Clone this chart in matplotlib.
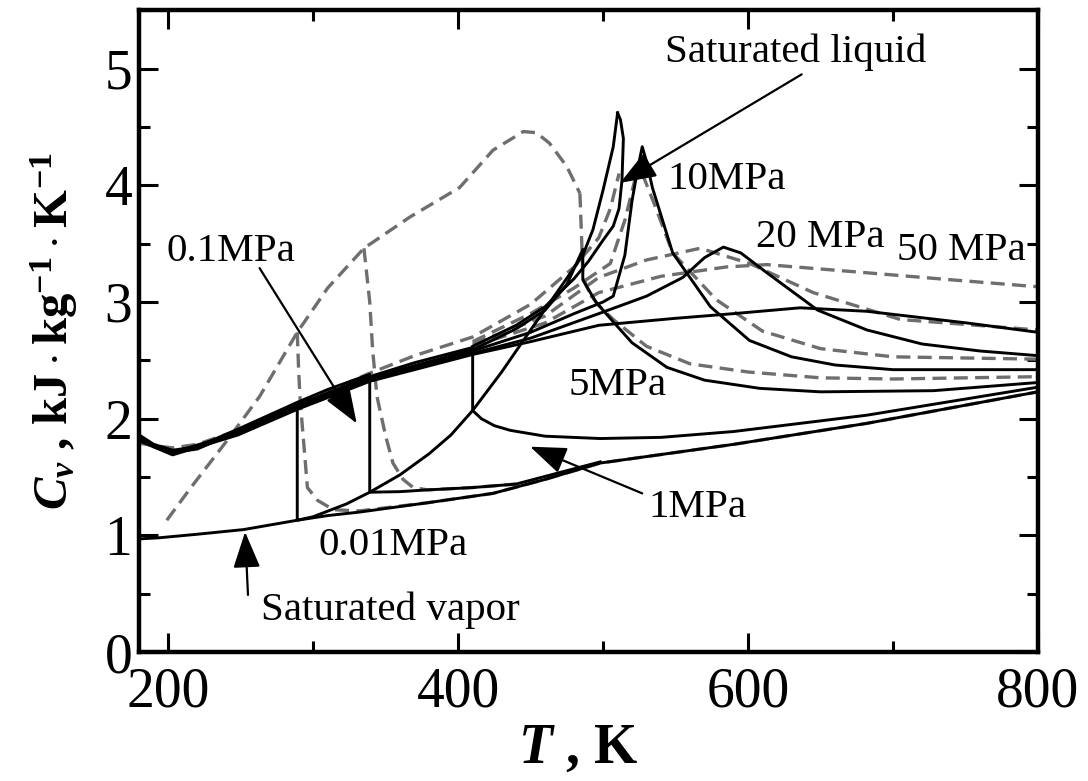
import matplotlib
matplotlib.use('Agg')
import matplotlib.pyplot as plt
from matplotlib.ticker import MultipleLocator

plt.rcParams['font.family'] = ['Liberation Serif', 'DejaVu Serif']
plt.rcParams['mathtext.fontset'] = 'custom'
plt.rcParams['mathtext.rm'] = 'Liberation Serif:bold'
plt.rcParams['mathtext.bf'] = 'Liberation Serif:bold'
plt.rcParams['mathtext.it'] = 'Liberation Serif:italic:bold'

# ---- solid curves (model 1) ----
# saturated vapor
T_satv = [180, 194, 220, 252, 289, 300, 323, 339, 360, 380, 395, 410, 430, 450, 472, 486, 493, 500, 507, 510]
cv_satv = [0.97, 0.98, 1.01, 1.05, 1.13, 1.16, 1.27, 1.37, 1.52, 1.70, 1.86, 2.07, 2.40, 2.76, 3.15, 3.40, 3.62, 3.96, 4.33, 4.62]
# saturated liquid, upper part up to the critical point
T_satl = [410, 440, 460, 480, 490, 500, 507, 511, 513, 514, 512, 510]
cv_satl = [2.62, 2.80, 2.96, 3.20, 3.35, 3.53, 3.65, 3.80, 4.04, 4.40, 4.56, 4.62]

# isobars: liquid branch, jump at saturation, vapor branch
T_p001 = [180, 190, 203, 220, 248, 270, 289, 289, 310, 332, 379, 424, 460, 498, 590, 682, 800]
cv_p001 = [1.85, 1.77, 1.72, 1.75, 1.90, 2.02, 2.13, 1.13, 1.17, 1.20, 1.28, 1.36, 1.48, 1.62, 1.78, 1.96, 2.23]
T_p01 = [180, 190, 203, 220, 248, 289, 310, 339, 339, 360, 379, 410, 440, 498]
cv_p01 = [1.86, 1.78, 1.73, 1.76, 1.91, 2.14, 2.25, 2.38, 1.37, 1.375, 1.39, 1.41, 1.44, 1.63]
T_p1 = [180, 190, 203, 220, 248, 289, 339, 370, 410, 410, 416, 425, 436, 460, 498, 540, 590, 682, 800]
cv_p1 = [1.84, 1.76, 1.71, 1.74, 1.89, 2.12, 2.36, 2.48, 2.61, 2.07, 2.00, 1.94, 1.90, 1.85, 1.83, 1.84, 1.89, 2.03, 2.27]
T_p5 = [180, 203, 248, 289, 339, 410, 440, 460, 475, 486, 486, 495, 507, 520, 544, 570, 608, 650, 728, 800]
cv_p5 = [1.83, 1.71, 1.88, 2.11, 2.35, 2.59, 2.77, 2.93, 3.15, 3.45, 3.19, 3.00, 2.83, 2.65, 2.44, 2.33, 2.26, 2.23, 2.24, 2.31]
T_p10 = [180, 203, 248, 289, 339, 410, 450, 480, 500, 507, 515, 520, 524, 527, 530, 534, 548, 574, 601, 630, 660, 700, 800]
cv_p10 = [1.83, 1.70, 1.88, 2.10, 2.34, 2.58, 2.74, 2.90, 3.00, 3.05, 3.40, 3.87, 4.15, 4.33, 4.20, 3.98, 3.42, 2.96, 2.67, 2.53, 2.46, 2.42, 2.42]
T_p20 = [180, 203, 248, 289, 339, 410, 450, 497, 530, 555, 570, 583, 595, 613, 648, 682, 720, 760, 800]
cv_p20 = [1.82, 1.70, 1.87, 2.09, 2.33, 2.56, 2.69, 2.90, 3.05, 3.21, 3.38, 3.47, 3.42, 3.25, 2.93, 2.76, 2.64, 2.58, 2.54]
T_p50 = [180, 203, 248, 289, 339, 410, 450, 497, 550, 590, 636, 682, 751, 800]
cv_p50 = [1.81, 1.69, 1.86, 2.08, 2.32, 2.55, 2.66, 2.80, 2.86, 2.90, 2.95, 2.92, 2.82, 2.74]

# ---- dashed curves (model 2) ----
T_env = [199, 215, 241, 263, 289, 310, 335, 367, 401, 424, 445, 454, 463, 475, 484]
cv_env = [1.13, 1.40, 1.82, 2.19, 2.74, 3.12, 3.46, 3.73, 3.98, 4.30, 4.46, 4.45, 4.36, 4.16, 3.93]
T_d001 = [289, 290, 291, 296, 303, 314, 332, 379, 424, 460, 498, 590, 682, 800]
cv_d001 = [2.74, 2.40, 2.16, 1.41, 1.30, 1.22, 1.21, 1.28, 1.36, 1.48, 1.62, 1.78, 1.96, 2.23]
T_d01 = [335, 339, 341, 344, 350, 355, 362, 369, 379, 410, 440]
cv_d01 = [3.46, 3.00, 2.59, 2.19, 1.85, 1.62, 1.48, 1.41, 1.39, 1.41, 1.44]
T_dliq = [180, 190, 203, 220, 248, 289, 337, 370, 410, 450, 480, 497, 505, 511]
cv_dliq = [1.79, 1.77, 1.75, 1.78, 1.90, 2.11, 2.38, 2.54, 2.70, 2.98, 3.30, 3.55, 3.80, 4.10]
T_d5 = [484, 485, 486, 488, 492, 497, 507, 530, 560, 600, 650, 700, 800]
cv_d5 = [3.93, 3.60, 3.25, 3.15, 3.05, 2.97, 2.85, 2.62, 2.47, 2.40, 2.35, 2.34, 2.36]
T_d10 = [410, 450, 480, 505, 515, 522, 527, 535, 548, 578, 610, 650, 700, 800]
cv_d10 = [2.66, 2.90, 3.12, 3.33, 3.70, 4.05, 4.10, 3.85, 3.42, 3.02, 2.75, 2.60, 2.53, 2.51]
T_d20 = [410, 460, 497, 530, 567, 601, 645, 705, 800]
cv_d20 = [2.64, 2.88, 3.21, 3.36, 3.46, 3.33, 3.08, 2.85, 2.76]
T_d50 = [410, 460, 497, 540, 585, 613, 682, 740, 800]
cv_d50 = [2.62, 2.82, 3.08, 3.22, 3.30, 3.32, 3.25, 3.19, 3.13]

solid = [(T_satv, cv_satv), (T_satl, cv_satl), (T_p001, cv_p001), (T_p01, cv_p01),
         (T_p1, cv_p1), (T_p5, cv_p5), (T_p10, cv_p10), (T_p20, cv_p20), (T_p50, cv_p50)]
dashed = [(T_env, cv_env), (T_d001, cv_d001), (T_d01, cv_d01), (T_dliq, cv_dliq),
          (T_d5, cv_d5), (T_d10, cv_d10), (T_d20, cv_d20), (T_d50, cv_d50)]

# labels: (text, T, Cv at baseline)
labels = [('Saturated liquid', 633, 5.06), ('10MPa', 585, 3.97), ('20 MPa', 650, 3.47),
          ('50 MPa', 747, 3.36), ('0.1MPa', 243, 3.35), ('5MPa', 510, 2.20),
          ('1MPa', 565, 1.16), ('0.01MPa', 355, 0.83), ('Saturated vapor', 353, 0.274)]
# arrows: (tail, tip)
arrows = [((637, 4.95), (511.7, 4.02)), ((263, 3.29), (330, 1.96)),
          ((527, 1.36), (449.7, 1.76)), ((255, 0.49), (253, 1.03))]

fig = plt.figure(figsize=(10.88, 7.81), dpi=100)
ax = fig.add_axes([0.128, 0.165, 0.826, 0.822])

for T, cv in dashed:
    ax.plot(T, cv, color='#6e6e6e', lw=2.4, dashes=(4.2, 2.2))
for T, cv in solid:
    ax.plot(T, cv, color='black', lw=2.1)

ax.set_xlim(180, 800)
ax.set_ylim(0, 5.5)
ax.xaxis.set_major_locator(MultipleLocator(200))
ax.xaxis.set_minor_locator(MultipleLocator(100))
ax.yaxis.set_major_locator(MultipleLocator(1))
ax.yaxis.set_minor_locator(MultipleLocator(0.5))
ax.tick_params(which='both', direction='in', top=True, right=True, width=2.2)
ax.tick_params(which='major', length=14, labelsize=40)
ax.tick_params(axis='x', which='major', pad=10)
ax.tick_params(axis='y', which='major', pad=5)
ax.tick_params(which='minor', length=8)
for s in ax.spines.values():
    s.set_linewidth(3.2)

ax.set_xlabel(r'$T$ , K', fontsize=40, fontweight='bold')
ax.xaxis.set_label_coords(0.488, -0.11)
ax.set_ylabel(r'$C_v$ , $\mathrm{kJ \cdot kg^{-1} \cdot K^{-1}}$', fontsize=35, fontweight='bold')
ax.yaxis.set_label_coords(-0.066, 0.5)

for txt, T, cv in labels:
    ax.text(T, cv, txt, fontsize=29.5, ha='center', va='baseline')
for tail, tip in arrows:
    ax.annotate('', xy=tip, xytext=tail,
                arrowprops=dict(arrowstyle='-|>,head_length=0.8,head_width=0.3',
                                mutation_scale=28, color='black', lw=1.6,
                                shrinkA=0, shrinkB=0))

fig.savefig('out.png', dpi=100)
